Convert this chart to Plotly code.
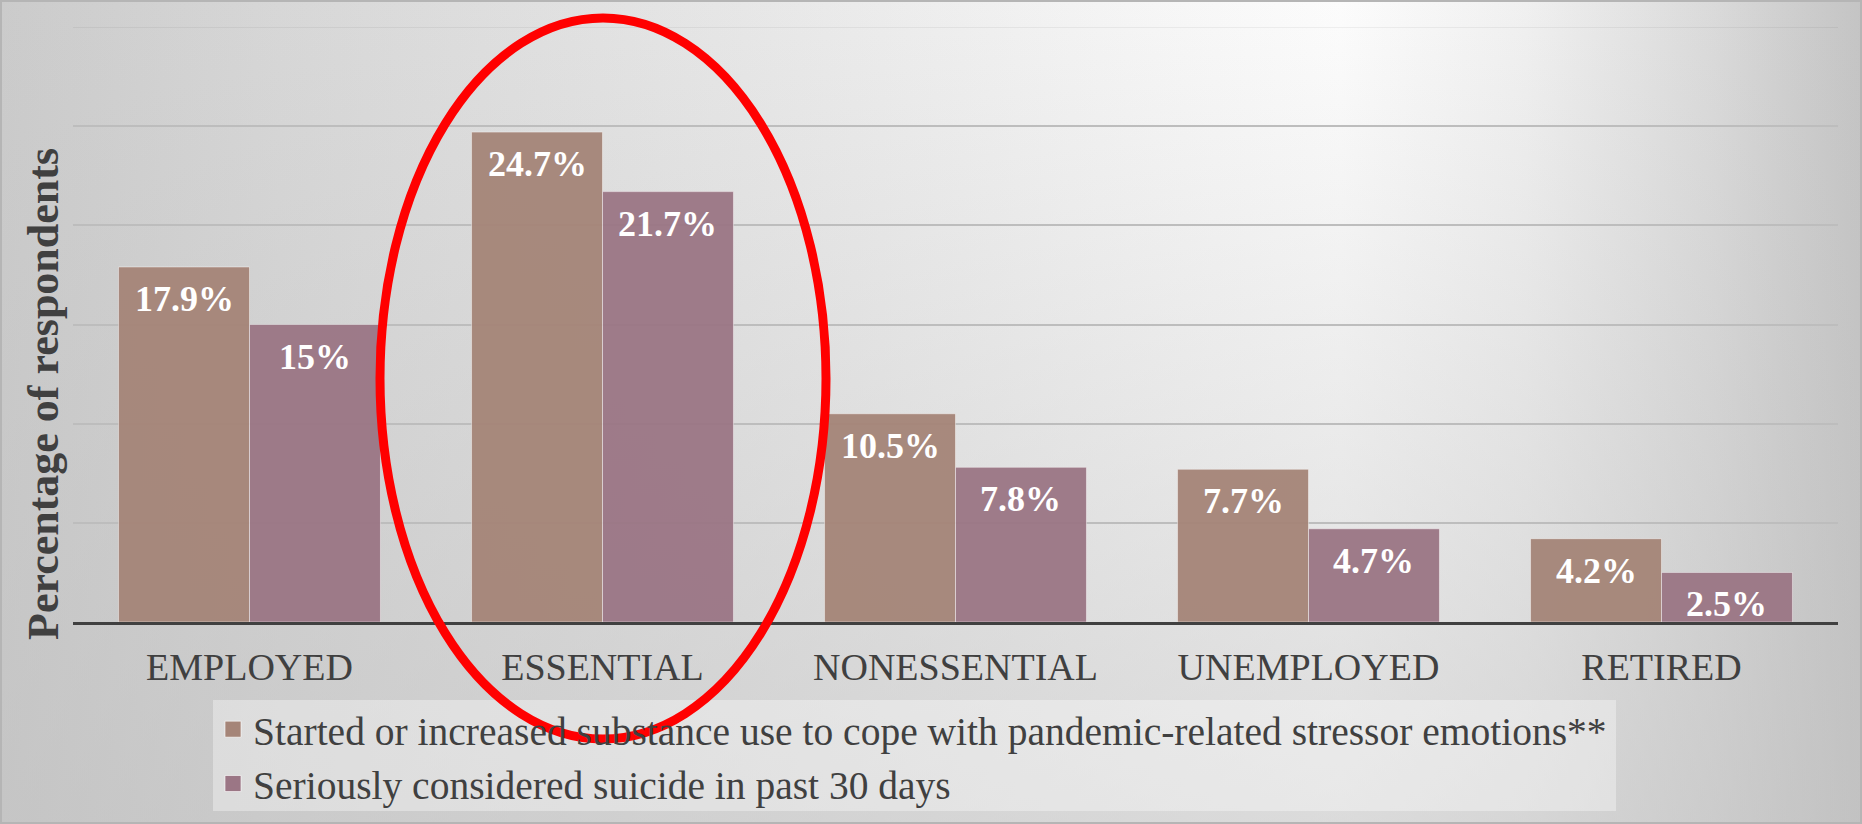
import base64
import plotly.graph_objects as go

# ---------------- data ----------------
categories = ["EMPLOYED", "ESSENTIAL", "NONESSENTIAL", "UNEMPLOYED", "RETIRED"]
substance_use = [17.9, 24.7, 10.5, 7.7, 4.2]
considered_suicide = [15, 21.7, 7.8, 4.7, 2.5]
series_names = [
    "Started or increased substance use to cope with pandemic-related stressor emotions**",
    "Seriously considered suicide in past 30 days",
]
y_title = "Percentage of respondents"
grid_ticks = [5, 10, 15, 20, 25]

# ---------------- style ----------------
W, H = 1862, 824
FONT = "Liberation Serif"
TXT = "#404040"
COL_SUB = "#A58578"
COL_SUI = "#9B7685"
BARGAP = 0.258
X_DOM = [73 / W, 1838 / W]

# gradient background as an inline SVG image
svg = f'''<svg xmlns="http://www.w3.org/2000/svg" width="{W}" height="{H}" viewBox="0 0 {W} {H}" preserveAspectRatio="none">
<defs>
<linearGradient id="h" x1="0" y1="0" x2="1" y2="0">
<stop offset="0" stop-color="#cbcbcb"/>
<stop offset="0.15" stop-color="#d7d7d7"/>
<stop offset="0.4" stop-color="#e7e7e7"/>
<stop offset="0.62" stop-color="#f6f6f6"/>
<stop offset="0.72" stop-color="#fcfcfc"/>
<stop offset="0.82" stop-color="#f0f0f0"/>
<stop offset="0.92" stop-color="#dadada"/>
<stop offset="1" stop-color="#c4c4c4"/>
</linearGradient>
<linearGradient id="v" x1="0" y1="0" x2="0" y2="1">
<stop offset="0" stop-color="#c0c0c0" stop-opacity="0"/>
<stop offset="1" stop-color="#c0c0c0" stop-opacity="0.55"/>
</linearGradient>
</defs>
<rect width="{W}" height="{H}" fill="url(#h)"/>
<rect width="{W}" height="{H}" fill="url(#v)"/>
<rect x="1" y="1" width="{W-2}" height="{H-2}" fill="none" stroke="#b5b5b5" stroke-width="2"/>
</svg>'''
bg_uri = "data:image/svg+xml;base64," + base64.b64encode(svg.encode()).decode()

# half a bar width in pixels (for placing value labels over each bar of a group)
cat_px = (X_DOM[1] - X_DOM[0]) * W / len(categories)
half_bar = cat_px * (1 - BARGAP) / 4

fig = go.Figure()
annotations = []
for k, (vals, col, name) in enumerate([(substance_use, COL_SUB, series_names[0]),
                                       (considered_suicide, COL_SUI, series_names[1])]):
    fig.add_trace(go.Bar(
        x=categories, y=vals, name=name, showlegend=False,
        marker=dict(color=col, line=dict(color="rgba(255,255,255,0.45)", width=1)),
        opacity=0.95, hoverinfo="skip",
    ))
    # legend entry with a larger square swatch
    fig.add_trace(go.Scatter(
        x=[None], y=[None], mode="markers", name=name,
        marker=dict(symbol="square", size=16, color=col,
                    line=dict(color="rgba(255,255,255,0.6)", width=1)),
    ))
    for c, v in zip(categories, vals):
        annotations.append(dict(
            x=c, y=v, xref="x", yref="y", text=f"<b>{v:g}%</b>",
            showarrow=False, yanchor="top", xanchor="center",
            xshift=(-1 if k == 0 else 1) * half_bar, yshift=-10,
            font=dict(family=FONT, size=36, color="white"),
        ))

annotations.append(dict(
    text=f"<b>{y_title}</b>", textangle=-90,
    xref="paper", yref="paper", x=43 / W, y=1 - 394 / H,
    xanchor="center", yanchor="middle", showarrow=False,
    font=dict(family=FONT, size=44, color=TXT),
))

fig.update_layout(
    width=W, height=H,
    margin=dict(l=0, r=0, t=0, b=0),
    paper_bgcolor="#dedede",
    plot_bgcolor="rgba(0,0,0,0)",
    barmode="group", bargap=BARGAP, bargroupgap=0,
    font=dict(family=FONT, color=TXT),
    images=[dict(source=bg_uri, xref="paper", yref="paper", x=0, y=1,
                 sizex=1, sizey=1, xanchor="left", yanchor="top",
                 sizing="stretch", layer="below")],
    legend=dict(
        x=213 / W, xanchor="left", y=1 - 697 / H, yanchor="top",
        bgcolor="rgba(0,0,0,0)", borderwidth=0,
        font=dict(family=FONT, size=39.5, color=TXT),
        tracegroupgap=0,
    ),
    xaxis=dict(
        domain=X_DOM, type="category",
        showgrid=False, showline=True, linecolor=TXT, linewidth=3,
        ticks="", tickfont=dict(family=FONT, size=38, color=TXT),
        ticklabelstandoff=9, zeroline=False,
    ),
    yaxis=dict(
        domain=[202 / H, 797 / H], range=[0, 30],
        tickvals=grid_ticks, showticklabels=False,
        showgrid=True, gridcolor="#bdbdbd", gridwidth=1.5,
        zeroline=False, showline=False,
    ),
    annotations=annotations,
    shapes=[
        # legend panel
        dict(type="rect", xref="paper", yref="paper",
             x0=213 / W, x1=1616 / W, y0=1 - 811 / H, y1=1 - 700 / H,
             fillcolor="rgba(255,255,255,0.35)", line=dict(width=0), layer="below"),
        dict(type="line", xref="x domain", x0=0, x1=1, yref="y", y0=30, y1=30,
             line=dict(color="rgba(0,0,0,0.07)", width=1.5), layer="below"),
        dict(type="circle", xref="paper", yref="paper",
             x0=380 / W, x1=826 / W, y0=1 - 739 / H, y1=1 - 18 / H,
             line=dict(color="#ff0000", width=9), layer="above"),
    ],
)

fig.write_html("out.html")
